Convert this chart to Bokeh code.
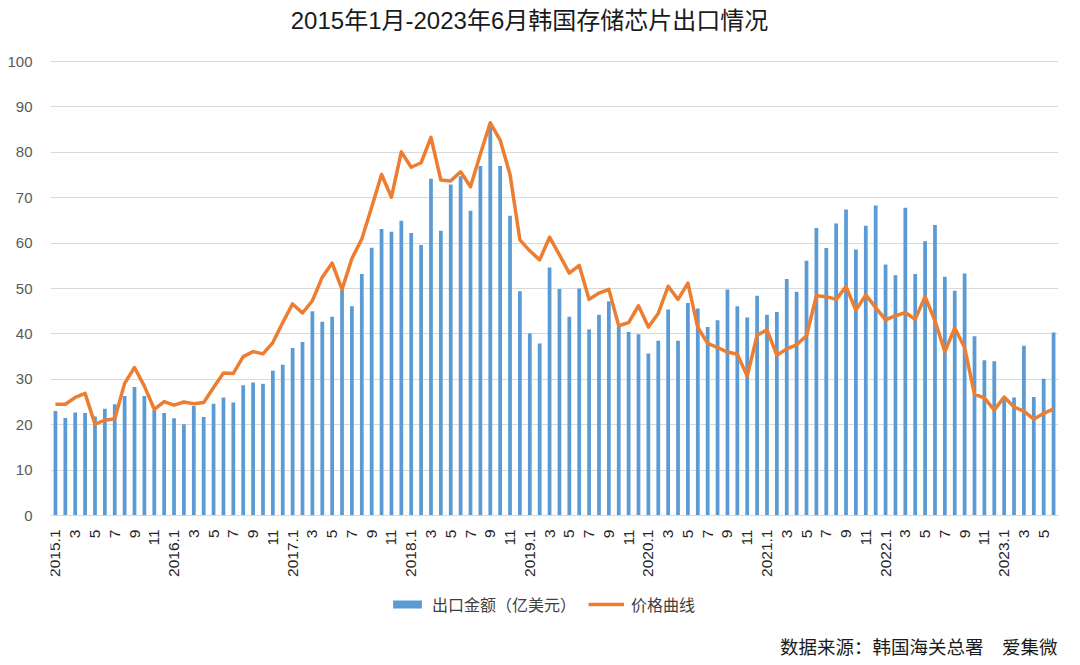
import math
from bokeh.plotting import figure
from bokeh.models import ColumnDataSource, FixedTicker, Label, Legend, LegendItem, Range1d
from bokeh.embed import file_html
from bokeh.resources import INLINE

# ---------------- data ----------------
years = [2015, 2016, 2017, 2018, 2019, 2020, 2021, 2022, 2023]
months_in_last_year = 6

export_2015 = [23.0, 21.5, 22.7, 22.6, 21.8, 23.5, 24.5, 26.3, 28.3, 26.3, 23.2, 22.6]
export_2016 = [21.4, 20.1, 24.1, 21.7, 24.6, 26.0, 24.9, 28.7, 29.3, 29.0, 31.9, 33.2]
export_2017 = [36.9, 38.2, 45.0, 42.7, 43.8, 49.7, 46.1, 53.2, 59.0, 63.1, 62.5, 64.9]
export_2018 = [62.2, 59.6, 74.2, 62.7, 72.9, 74.7, 67.1, 77.0, 85.5, 77.0, 66.0, 49.4]
export_2019 = [40.1, 37.9, 54.6, 49.9, 43.8, 50.0, 41.0, 44.2, 47.2, 41.5, 40.4, 39.9]
export_2020 = [35.7, 38.5, 45.4, 38.5, 46.8, 45.6, 41.5, 43.0, 49.8, 46.1, 43.6, 48.4]
export_2021 = [44.2, 44.8, 52.1, 49.3, 56.1, 63.3, 58.9, 64.3, 67.4, 58.6, 63.8, 68.3]
export_2022 = [55.3, 52.9, 67.8, 53.2, 60.4, 64.0, 52.6, 49.5, 53.3, 39.5, 34.2, 34.0]
export_2023 = [26.0, 26.0, 37.4, 26.1, 30.1, 40.3]

price_2015 = [24.5, 24.5, 26.0, 26.9, 20.1, 21.0, 21.3, 29.1, 32.6, 28.5, 23.4, 25.1]
price_2016 = [24.3, 25.0, 24.6, 24.9, 28.2, 31.4, 31.3, 35.0, 36.1, 35.6, 38.1, 42.5]
price_2017 = [46.6, 44.6, 47.3, 52.5, 55.6, 49.8, 56.6, 60.9, 67.9, 75.1, 70.1, 80.1]
price_2018 = [76.7, 77.7, 83.3, 73.9, 73.7, 75.7, 72.4, 79.6, 86.5, 82.7, 75.1, 60.7]
price_2019 = [58.3, 56.3, 61.3, 57.4, 53.4, 55.1, 47.6, 49.0, 49.8, 41.8, 42.5, 46.2]
price_2020 = [41.5, 44.5, 50.5, 47.6, 51.2, 41.4, 37.9, 37.0, 36.0, 35.5, 30.7, 39.7]
price_2021 = [40.9, 35.3, 36.7, 37.6, 39.6, 48.4, 48.2, 47.6, 50.4, 45.2, 48.6, 45.8]
price_2022 = [43.1, 44.0, 44.7, 43.2, 48.2, 42.9, 36.1, 41.3, 37.0, 26.7, 25.9, 23.2]
price_2023 = [26.1, 23.9, 23.0, 21.2, 22.5, 23.5]

y_ticks = [0, 10, 20, 30, 40, 50, 60, 70, 80, 90, 100]

title_text = "2015年1月-2023年6月韩国存储芯片出口情况"
bar_name = "出口金额（亿美元）"
line_name = "价格曲线"
source_text = "数据来源：韩国海关总署\u3000爱集微"

# ---------------- build ----------------
export = (export_2015 + export_2016 + export_2017 + export_2018 + export_2019 +
          export_2020 + export_2021 + export_2022 + export_2023)
price = (price_2015 + price_2016 + price_2017 + price_2018 + price_2019 +
         price_2020 + price_2021 + price_2022 + price_2023)

labels = []
for y in years:
    n = months_in_last_year if y == years[-1] else 12
    for m in range(1, n + 1):
        labels.append(f"{y}.1" if m == 1 else str(m))

idx = list(range(len(labels)))
src = ColumnDataSource(dict(x=idx, export=export, price=price, label=labels))

BLUE = "#5B9BD5"
ORANGE = "#ED7D31"
CJK = "'Liberation Sans', 'Noto Sans CJK SC'"

# layout geometry (pixels): plot area from y=61 (value 100) to y=515 (value 0)
W, H = 1072, 657
LEFT, RIGHT = 50, 14
PX_PER_UNIT = (515 - 61) / 100.0
PX_PER_MONTH = (W - LEFT - RIGHT) / len(idx)
y_lo = -(H - 515) / PX_PER_UNIT
y_hi = 100 + 61 / PX_PER_UNIT

def to_x(px):
    return (px - LEFT) / PX_PER_MONTH - 0.5

def to_y(py):
    return (515 - py) / PX_PER_UNIT

p = figure(width=W, height=H, output_backend="svg", toolbar_location=None,
           x_range=Range1d(-0.5, len(idx) - 0.5), y_range=Range1d(y_lo, y_hi),
           min_border_left=LEFT, min_border_right=RIGHT, min_border_top=0, min_border_bottom=0)
p.outline_line_color = None
p.background_fill_color = "white"
p.border_fill_color = "white"

bars = p.vbar(x="x", top="export", bottom=0, width=0.38, source=src, fill_color=BLUE, line_color=None)
line = p.line(x="x", y="price", source=src, line_color=ORANGE, line_width=3.5, line_join="round")

# y axis
p.yaxis.ticker = FixedTicker(ticks=y_ticks)
p.yaxis.axis_line_color = None
p.yaxis.major_tick_line_color = None
p.yaxis.minor_tick_line_color = None
p.yaxis.major_label_standoff = 12
p.yaxis.major_label_text_font = "Liberation Sans"
p.yaxis.major_label_text_font_size = "15px"
p.yaxis.major_label_text_color = "#595959"
p.ygrid.grid_line_color = "#d9d9d9"
p.ygrid.grid_line_width = 1.2

# x axis drawn at value 0
p.xaxis.fixed_location = 0
p.xaxis.ticker = FixedTicker(ticks=idx[::2])
p.xaxis.major_label_overrides = {i: labels[i] for i in idx[::2]}
p.xaxis.major_label_orientation = math.pi / 2
p.xaxis.axis_line_color = "#d9d9d9"
p.xaxis.axis_line_width = 1.2
p.xaxis.major_tick_line_color = None
p.xaxis.minor_tick_line_color = None
p.xaxis.major_label_standoff = 8
p.xaxis.major_label_text_font = "Liberation Sans"
p.xaxis.major_label_text_font_size = "15.5px"
p.xaxis.major_label_text_color = "#262626"
p.xgrid.grid_line_color = None

# title
p.add_layout(Label(x=to_x(529), y=to_y(20),
                   text=title_text, text_align="center", text_baseline="middle",
                   text_font=CJK, text_font_size="24px", text_color="#1a1a1a"))

# source note
p.add_layout(Label(x=len(idx) - 0.5, y=to_y(645), x_offset=-1,
                   text=source_text, text_align="right", text_baseline="middle",
                   text_font="Noto Sans CJK SC", text_font_size="18.5px", text_color="#1a1a1a"))

# legend
legend = Legend(items=[LegendItem(label=bar_name, renderers=[bars]),
                       LegendItem(label=line_name, renderers=[line])],
                orientation="horizontal", location=(389 - LEFT, H - 616),
                glyph_width=36, glyph_height=10, label_standoff=7, spacing=12,
                padding=0, margin=0, border_line_color=None, background_fill_alpha=0,
                label_text_font=CJK, label_text_font_size="16px", label_text_color="#404040")
p.add_layout(legend)

open("out.html", "w").write(file_html(p, INLINE))
